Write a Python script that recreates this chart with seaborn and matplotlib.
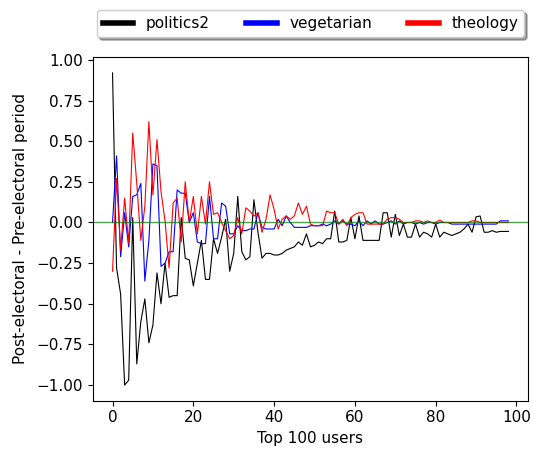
import numpy as np
import pandas as pd
import seaborn as sns
import matplotlib
matplotlib.use("Agg")
import matplotlib.pyplot as plt

plt.rcParams['font.size'] = 11

# difference post - pre electoral, top users ranked
users = list(range(99))

politics2 = [0.92, -0.28, -0.44, -1.00, -0.97, 0.03, -0.87, -0.61, -0.47, -0.74,
             -0.63, -0.31, -0.50, -0.25, -0.46, -0.45, -0.45, 0.03, -0.22, -0.23,
             -0.39, -0.25, -0.11, -0.35, -0.35, -0.10, -0.19, -0.09, 0.02, -0.30,
             -0.19, 0.16, -0.18, -0.23, -0.21, 0.14, -0.06, -0.22, -0.19, -0.19,
             -0.20, -0.20, -0.19, -0.17, -0.16, -0.15, -0.12, -0.14, -0.07, -0.15,
             -0.14, -0.12, -0.13, -0.10, -0.10, 0.07, -0.12, -0.12, -0.11, 0.03,
             -0.10, 0.04, -0.11, -0.11, -0.11, -0.11, -0.11, 0.06, 0.06, -0.09,
             0.05, -0.08, -0.01, -0.09, -0.09, -0.01, -0.09, -0.06, -0.07, -0.09,
             -0.01, -0.09, -0.06, -0.07, -0.08, -0.07, -0.06, -0.04, -0.01, -0.06,
             0.035, 0.04, -0.06, -0.06, -0.05, -0.06, -0.055, -0.055, -0.055]

vegetarian = [0.0, 0.41, -0.21, 0.06, -0.15, 0.16, 0.17, 0.24, -0.36, -0.11,
              0.36, 0.35, -0.27, -0.25, -0.18, -0.18, 0.20, 0.18, 0.18, 0.00,
              0.06, -0.12, -0.13, -0.13, 0.16, -0.10, -0.10, 0.12, 0.10, -0.07,
              -0.07, -0.02, -0.05, -0.05, -0.04, -0.04, 0.06, -0.03, -0.04, -0.04,
              -0.04, 0.02, -0.02, 0.04, 0.00, -0.03, -0.03, -0.03, -0.03, -0.02,
              -0.02, -0.02, -0.01, -0.02, -0.01, 0.01, -0.01, 0.01, -0.01, -0.01,
              -0.02, 0.01, -0.02, 0.01, -0.01, 0.01, -0.01, -0.01, 0.00, 0.01,
              -0.01, 0.01, -0.01, 0.00, 0.00, -0.01, 0.00, -0.01, 0.00, 0.00,
              -0.01, 0.00, 0.00, 0.00, -0.01, -0.01, -0.01, -0.01, -0.01, -0.01,
              -0.01, -0.01, -0.01, -0.01, -0.01, -0.01, 0.01, 0.01, 0.01]

theology = [-0.30, 0.27, -0.17, 0.15, -0.13, 0.55, 0.24, -0.11, 0.10, 0.62,
            0.17, 0.51, 0.19, 0.01, -0.28, 0.12, 0.15, -0.12, 0.25, 0.00,
            0.16, -0.07, 0.16, -0.01, 0.25, 0.05, 0.06, 0.00, -0.05, -0.10,
            -0.08, 0.03, -0.07, 0.09, 0.07, 0.04, 0.06, -0.06, 0.02, 0.17,
            0.08, -0.04, 0.02, 0.04, 0.02, 0.04, 0.12, 0.05, 0.10, -0.01,
            -0.02, -0.02, -0.02, 0.07, 0.06, 0.06, -0.01, 0.02, -0.02, 0.03,
            0.05, 0.06, 0.06, -0.01, -0.01, -0.01, -0.01, -0.01, 0.02, 0.03,
            0.03, 0.02, 0.00, 0.00, 0.00, 0.01, 0.01, 0.00, 0.01, 0.00,
            0.00, 0.015, 0.00, 0.00, 0.00, 0.00, 0.00, 0.00, 0.00, 0.01,
            0.01, 0.00, 0.00, 0.00, 0.00, 0.00, 0.00, 0.00, 0.00]

topics = ['politics2', 'vegetarian', 'theology']
colors = ['black', 'blue', 'red']

df = pd.DataFrame({'user': users, 'politics2': politics2,
                   'vegetarian': vegetarian, 'theology': theology})
df = pd.melt(df, id_vars=['user'], value_vars=topics, var_name='topic', value_name='diff')

fig = plt.figure(figsize=(5.33, 4.49), dpi=100)
ax = fig.add_axes([0.174, 0.1076, 0.817, 0.7648])

for t, c in zip(topics, colors):
    sub = df[df['topic'] == t]
    sns.lineplot(data=sub, x='user', y='diff', color=c, linewidth=0.8, label=t, ax=ax)

ax.axhline(0, color='g', alpha=0.7, linewidth=1, zorder=5)

ax.set_xlabel('Top 100 users')
ax.set_ylabel('Post-electoral - Pre-electoral period', labelpad=6)

leg = ax.legend(loc='center', bbox_to_anchor=(0.5, 1.098), ncol=3,
                fancybox=True, shadow=True, fontsize=11, columnspacing=2.4)
for line in leg.get_lines():
    line.set_linewidth(4)

plt.savefig('out.png', dpi=100)
